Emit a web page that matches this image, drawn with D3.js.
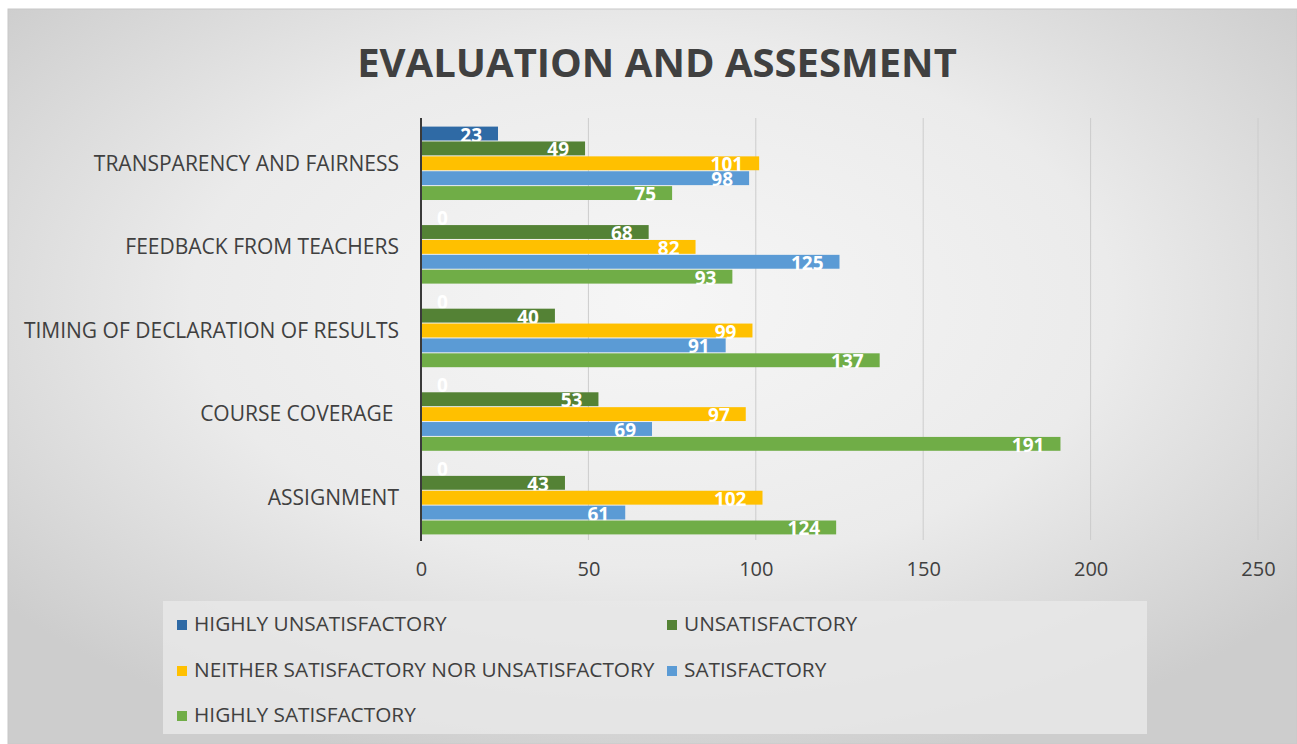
<!DOCTYPE html>
<html>
<head>
<meta charset="utf-8">
<script src="https://cdn.jsdelivr.net/npm/d3@7"></script>
<style>
  body { margin: 0; background: #fff; }
  svg { display: block; font-family: "Open Sans", sans-serif; }
</style>
</head>
<body>
<svg width="1297" height="744"></svg>
<script>
var categories = ["TRANSPARENCY AND FAIRNESS", "FEEDBACK FROM TEACHERS",
  "TIMING OF DECLARATION OF RESULTS", "COURSE COVERAGE ", "ASSIGNMENT"];
var seriesNames = ["HIGHLY UNSATISFACTORY", "UNSATISFACTORY",
  "NEITHER SATISFACTORY NOR UNSATISFACTORY", "SATISFACTORY", "HIGHLY SATISFACTORY"];
var seriesColors = ["#2f6aa5", "#548235", "#ffc000", "#5b9bd5", "#70ad47"];
// one array per series, in category order above
var highlyUnsat = [23, 0, 0, 0, 0];
var unsat = [49, 68, 40, 53, 43];
var neither = [101, 82, 99, 97, 102];
var sat = [98, 125, 91, 69, 61];
var highlySat = [75, 93, 137, 191, 124];
var xTicks = [0, 50, 100, 150, 200, 250];

var series = [highlyUnsat, unsat, neither, sat, highlySat];

var svg = d3.select("svg"),
    width = +svg.attr("width"),
    height = +svg.attr("height");

// background gradient
var defs = svg.append("defs");
var grad = defs.append("radialGradient")
    .attr("id", "bg")
    .attr("cx", "50%").attr("cy", "40%").attr("r", "65%");
grad.append("stop").attr("offset", "0%").attr("stop-color", "#f6f6f6");
grad.append("stop").attr("offset", "55%").attr("stop-color", "#ebebeb");
grad.append("stop").attr("offset", "100%").attr("stop-color", "#cdcdcd");

svg.append("rect")
    .attr("x", 8).attr("y", 9)
    .attr("width", width - 8).attr("height", height - 9)
    .attr("fill", "url(#bg)")
    .attr("stroke", "#c8c8c8");

svg.append("text")
    .attr("x", 657).attr("y", 77)
    .attr("text-anchor", "middle")
    .attr("font-size", 40)
    .attr("font-weight", 700)
    .attr("fill", "#404040")
    .text("EVALUATION AND ASSESMENT");

var x = d3.scaleLinear().domain([0, 250]).range([421, 1258]);
var y = d3.scaleBand().domain(categories).range([122, 540])
    .paddingInner(0.11).paddingOuter(0.055);
var ySub = d3.scaleBand().domain(d3.range(series.length)).range([0, y.bandwidth()]);

// gridlines
svg.append("g")
    .selectAll("line")
    .data(xTicks.slice(1))
    .enter().append("line")
      .attr("x1", function(d) { return x(d); })
      .attr("x2", function(d) { return x(d); })
      .attr("y1", 118).attr("y2", 540)
      .attr("stroke", "#cccccc")
      .attr("stroke-width", 1);

// bars
var groups = svg.append("g")
  .selectAll("g")
  .data(series)
  .enter().append("g")
    .attr("fill", function(d, i) { return seriesColors[i]; });

groups.selectAll("rect")
  .data(function(d, i) { return d.map(function(v, j) { return {v: v, s: i, c: categories[j]}; }); })
  .enter().append("rect")
    .attr("x", x(0))
    .attr("y", function(d) { return y(d.c) + ySub(d.s); })
    .attr("width", function(d) { return x(d.v) - x(0); })
    .attr("height", ySub.bandwidth() - 1);

groups.selectAll("text")
  .data(function(d, i) { return d.map(function(v, j) { return {v: v, s: i, c: categories[j]}; }); })
  .enter().append("text")
    .attr("x", function(d) { return d.v === 0 ? x(0) + 16 : x(d.v) - 16; })
    .attr("y", function(d) { return y(d.c) + ySub(d.s) + ySub.bandwidth() / 2 + 7.5; })
    .attr("text-anchor", function(d) { return d.v === 0 ? "start" : "end"; })
    .attr("font-size", 19)
    .attr("font-weight", 700)
    .attr("fill", "#fff")
    .text(function(d) { return d.v; });

// y axis
var yAxis = svg.append("g")
    .attr("transform", "translate(" + x(0) + ",0)")
    .call(d3.axisLeft(y).tickSize(0).tickPadding(22));
yAxis.select(".domain").remove();
yAxis.selectAll("text")
    .attr("font-size", 21)
    .attr("fill", "#404040")
    .attr("font-family", "Open Sans, sans-serif")
    .style("white-space", "pre");

svg.append("line")
    .attr("x1", x(0)).attr("x2", x(0))
    .attr("y1", 118).attr("y2", 541)
    .attr("stroke", "#3a3a3a")
    .attr("stroke-width", 2);

// x axis
var xAxis = svg.append("g")
    .attr("transform", "translate(0,540)")
    .call(d3.axisBottom(x).tickValues(xTicks).tickSize(0).tickPadding(22));
xAxis.select(".domain").remove();
xAxis.selectAll("text")
    .attr("font-size", 20)
    .attr("fill", "#404040")
    .attr("font-family", "Open Sans, sans-serif");

// legend
var legend = svg.append("g");
legend.append("rect")
    .attr("x", 163).attr("y", 601)
    .attr("width", 984).attr("height", 133)
    .attr("fill", "#e8e8e8")
    .attr("fill-opacity", 0.85);

var legendPos = [[177, 631], [667, 631], [177, 677], [667, 677], [177, 722]];
var item = legend.selectAll("g.item")
  .data(seriesNames)
  .enter().append("g")
    .attr("class", "item")
    .attr("transform", function(d, i) { return "translate(" + legendPos[i][0] + "," + legendPos[i][1] + ")"; });
item.append("rect")
    .attr("x", 0).attr("y", -11)
    .attr("width", 10).attr("height", 10)
    .attr("fill", function(d, i) { return seriesColors[i]; });
item.append("text")
    .attr("x", 17).attr("y", 0)
    .attr("font-size", 20.8)
    .attr("fill", "#404040")
    .text(function(d) { return d; });
</script>
</body>
</html>
